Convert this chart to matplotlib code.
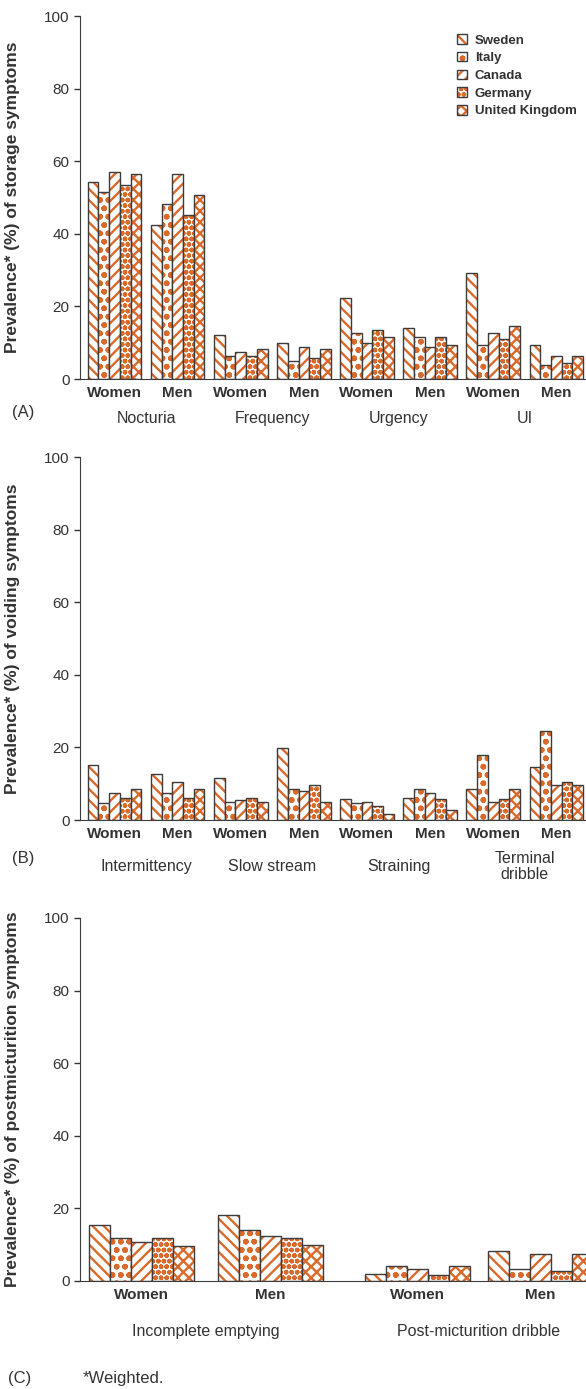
import matplotlib
matplotlib.use('Agg')
import matplotlib.pyplot as plt

plt.rcParams['font.family'] = ['Liberation Sans', 'DejaVu Sans']
plt.rcParams['hatch.linewidth'] = 1.7

countries = ['Sweden', 'Italy', 'Canada', 'Germany', 'United Kingdom']
hatches = ['\\\\\\', 'oo', '///', 'ooo', 'xxx']
sexes = ['Women', 'Men']

# (A) storage symptoms, per country: [Noct W, Noct M, Freq W, Freq M, Urg W, Urg M, UI W, UI M]
storage_labels = ['Nocturia', 'Frequency', 'Urgency', 'UI']
storage_sweden = [54.2, 42.5, 12.2, 9.8, 22.4, 14.1, 29.3, 9.4]
storage_italy = [51.6, 48.3, 6.3, 5.1, 12.8, 11.7, 9.4, 4.0]
storage_canada = [57.1, 56.5, 7.5, 8.8, 9.9, 8.8, 12.8, 6.3]
storage_germany = [53.6, 45.3, 6.3, 5.8, 13.5, 11.7, 11.1, 4.5]
storage_uk = [56.5, 50.6, 8.2, 8.2, 11.7, 9.4, 14.7, 6.3]

# (B) voiding symptoms
voiding_labels = ['Intermittency', 'Slow stream', 'Straining', 'Terminal\ndribble']
voiding_sweden = [15.2, 12.7, 11.6, 19.8, 5.7, 6.2, 8.6, 14.5]
voiding_italy = [4.6, 7.5, 5.1, 8.6, 4.6, 8.6, 17.9, 24.5]
voiding_canada = [7.5, 10.4, 5.6, 8.1, 5.1, 7.5, 5.1, 9.6]
voiding_germany = [6.2, 6.2, 6.2, 9.7, 3.8, 5.7, 5.7, 10.4]
voiding_uk = [8.6, 8.6, 5.1, 5.1, 1.7, 2.8, 8.6, 9.6]

# (C) postmicturition symptoms
post_labels = ['Incomplete emptying', 'Post-micturition dribble']
post_sweden = [15.4, 18.3, 1.8, 8.2]
post_italy = [11.7, 14.1, 4.1, 3.4]
post_canada = [10.6, 12.5, 3.4, 7.3]
post_germany = [11.7, 11.7, 1.6, 2.8]
post_uk = [9.5, 10.0, 4.1, 7.3]

orange = '#d96a2b'
edge = '#3c3c3c'
txt = '#333333'

fig = plt.figure(figsize=(5.86, 13.89), dpi=100)


def panel(rect, series, centers, width, cats, ylabel, xlim, cat_y):
    ax = fig.add_axes(rect)
    handles = []
    for k, vals in enumerate(series):
        xs = [c + (k - 2) * width for c in centers]
        h = ax.bar(xs, vals, width, color='white', edgecolor=orange, hatch=hatches[k],
                   linewidth=0)
        o = ax.bar(xs, vals, width, fill=False, edgecolor=edge, linewidth=1.0)
        handles.append((h, o))
    ax.set_ylim(0, 100)
    ax.set_xlim(*xlim)
    ax.set_yticks(range(0, 101, 20))
    ax.set_xticks(centers)
    ax.set_xticklabels(sexes * (len(centers) // 2), fontweight='bold', fontsize=11, color=txt)
    ax.tick_params(axis='x', length=0, pad=5)
    ax.tick_params(axis='y', labelsize=11, colors=txt, length=4, width=1)
    for s in ['top', 'right']:
        ax.spines[s].set_visible(False)
    for s in ['left', 'bottom']:
        ax.spines[s].set_color(edge)
    ax.set_ylabel(ylabel, fontsize=12.5, fontweight='bold', color=txt)
    ax.yaxis.set_label_coords(-0.119, 0.5)
    for i, name in enumerate(cats):
        cx = (centers[2 * i] + centers[2 * i + 1]) / 2
        ax.text(cx, cat_y, name, transform=ax.get_xaxis_transform(), ha='center', va='center',
                fontsize=11.5, color=txt, linespacing=1.1)
    return ax, handles


centers8 = list(range(8))
ax1, hs = panel([0.1365, 0.7271, 0.8635, 0.2613],
                [storage_sweden, storage_italy, storage_canada, storage_germany, storage_uk],
                centers8, 0.17, storage_labels, 'Prevalence* (%) of storage symptoms',
                (-0.547, 7.47), -0.11)
leg = ax1.legend(handles=hs, labels=countries, loc='upper left', bbox_to_anchor=(0.735, 0.965),
                 frameon=False, prop={'weight': 'bold', 'size': 9.5}, handlelength=0.75,
                 handleheight=0.75, labelspacing=0.4, handletextpad=0.6, borderaxespad=0)
for t in leg.get_texts():
    t.set_color(txt)

panel([0.1365, 0.4096, 0.8635, 0.2613],
      [voiding_sweden, voiding_italy, voiding_canada, voiding_germany, voiding_uk],
      centers8, 0.17, voiding_labels, 'Prevalence* (%) of voiding symptoms',
      (-0.547, 7.47), -0.127)

panel([0.1365, 0.0778, 0.8635, 0.2613],
      [post_sweden, post_italy, post_canada, post_germany, post_uk],
      [0, 1, 2.14, 3.09], 0.163, post_labels, 'Prevalence* (%) of postmicturition symptoms',
      (-0.477, 3.446), -0.14)

fig.text(12 / 586, 1 - 412 / 1389, '(A)', fontsize=12, color=txt, va='center')
fig.text(12 / 586, 1 - 858 / 1389, '(B)', fontsize=12, color=txt, va='center')
fig.text(8 / 586, 1 - 1379 / 1389, '(C)', fontsize=12, color=txt, va='center')
fig.text(83 / 586, 1 - 1379 / 1389, '*Weighted.', fontsize=12, color=txt, va='center')

fig.savefig('out.png', dpi=100)
